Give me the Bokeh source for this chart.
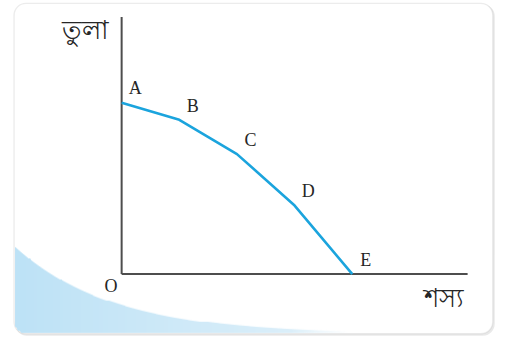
import numpy as np
from bokeh.plotting import figure
from bokeh.models import BoxAnnotation, Range1d
from bokeh.core.properties import value
from bokeh.embed import file_html
from bokeh.resources import INLINE

# ---- data ----
points = ["A", "B", "C", "D", "E"]
crops = [0, 1, 2, 3, 4]          # শস্য
cotton = [10, 9, 7, 4, 0]        # তুলা
x_axis_max = 6
y_axis_max = 15
x_label = "শস্য"
y_label = "তুলা"
origin_label = "O"

# ---- mapping from reference-picture pixels to data units ----
RW, RH = 518, 356          # reference picture size
W, H = 502, 340            # figure size
KX, KY = W / RW, H / RH
OX, OY = 125.0, 286.5      # origin in reference pixels
SX, SY = 59.5, 17.95       # reference pixels per data unit


def X(px):
    return (px - OX) / SX


def Y(py):
    return (OY - py) / SY


p = figure(width=W, height=H, output_backend="svg", toolbar_location=None,
           x_range=Range1d(X(0), X(RW)), y_range=Range1d(Y(RH), Y(0)),
           min_border=0, outline_line_color=None, background_fill_color="white",
           border_fill_color="white")
p.axis.visible = False
p.grid.visible = False

# panel (shadow + box)
pl, pr, pt, pb = 14, 508, 3, 349
p.add_layout(BoxAnnotation(left=X(pl + 1), right=X(pr + 2), top=Y(pt + 1), bottom=Y(pb + 2),
                           fill_color="#c8c8c8", line_color=None, border_radius=12, level="underlay"))
p.add_layout(BoxAnnotation(left=X(pl), right=X(pr), top=Y(pt), bottom=Y(pb),
                           fill_color="white", fill_alpha=1, line_color="#c0c0c0", line_width=1.4,
                           border_radius=12, level="underlay"))

# swoosh gradient (decoration)
x0, x1, y0, y1 = pl + 1, 360, 250, pb - 1
w, h = x1 - x0, y1 - y0
img = np.zeros((h, w), dtype=np.uint32)
view = img.view(dtype=np.uint8).reshape((h, w, 4))
xs = np.arange(w) + x0 + 0.5
rad = 12
for r in range(h):
    py = y1 - r - 0.5
    bound = 349 - 91 * np.exp(-(xs - 15) / 100.0)
    inside = py > bound
    cx, cy = pl + rad, pb - rad
    corner = (xs < cx) & (py > cy) & ((xs - cx) ** 2 + (py - cy) ** 2 > (rad - 0.5) ** 2)
    inside &= ~corner
    t = np.clip((xs - x0) / (330 - x0), 0, 1)
    rr = (189 + (222 - 189) * t).astype(np.uint8)
    gg = (226 + (240 - 226) * t).astype(np.uint8)
    bb = (246 + (250 - 246) * t).astype(np.uint8)
    edge = np.clip((py - bound) * 1.0, 0, 1)
    fade = np.clip((x1 - xs) / 60.0, 0, 1)
    a = (255 * edge * fade).astype(np.uint8)
    view[r, :, 0] = rr
    view[r, :, 1] = gg
    view[r, :, 2] = bb
    view[r, :, 3] = np.where(inside, a, 0)
p.image_rgba(image=[img], x=X(x0), y=Y(y1), dw=X(x1) - X(x0), dh=Y(y0) - Y(y1))

# axes
p.segment(x0=[0, 0], y0=[0, 0], x1=[0, x_axis_max], y1=[y_axis_max, 0],
          line_color="#4d4d4d", line_width=2)

# PPF curve
p.line(crops, cotton, line_color="#1ba4dd", line_width=2.6)

# point labels
serif = value("Liberation Serif")
p.text(x=crops, y=cotton, text=points, x_offset=14 * KX, y_offset=-15 * KY,
       text_align="center", text_baseline="middle", text_color="#262626",
       text_font=serif, text_font_size="18px")
p.text(x=[0], y=[0], text=[origin_label], x_offset=-11 * KX, y_offset=12 * KY,
       text_align="center", text_baseline="middle", text_color="#262626",
       text_font=serif, text_font_size="18px")

# axis titles
p.text(x=[0], y=[y_axis_max], text=[y_label], x_offset=-37 * KX, y_offset=13 * KY,
       text_align="center", text_baseline="middle", text_color="#262626",
       text_font=value("Noto Sans"), text_font_size="26px")
p.text(x=[x_axis_max], y=[0], text=[x_label], x_offset=-24 * KX, y_offset=24 * KY,
       text_align="center", text_baseline="middle", text_color="#262626",
       text_font=value("Noto Sans"), text_font_size="26px")

open("out.html", "w").write(file_html(p, INLINE))
